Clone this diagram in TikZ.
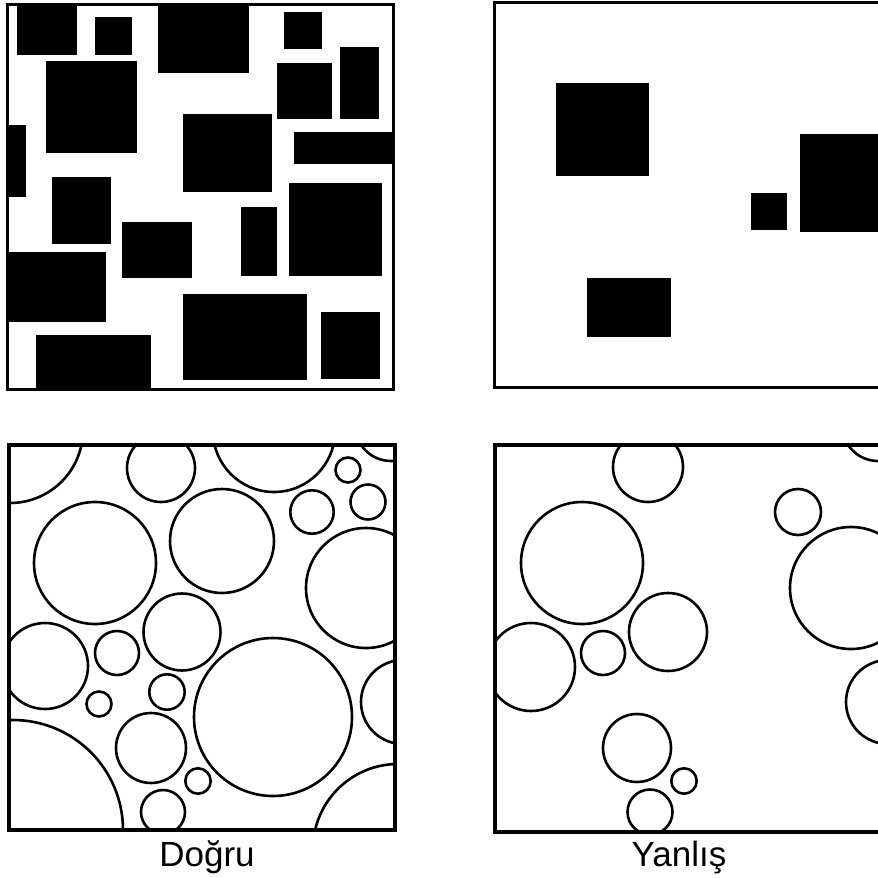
\documentclass[tikz,border=0pt]{standalone}
\usepackage{fontspec}
\setmainfont{Liberation Sans}
\usetikzlibrary{positioning}

\begin{document}
\begin{tikzpicture}[
    x=1pt, y=-1pt,
    frame/.style={draw, line width=3pt},
    block/.style={fill=black},
    ring/.style={draw, line width=2.6pt},
    caption/.style={font=\fontsize{35}{38}\selectfont, anchor=base}
]
\useasboundingbox (0,0) rectangle (878,878);
\clip (0,0) rectangle (878,878);
% Top left: many blocks
\begin{scope}
\clip (7,4) rectangle (393,389);
\fill[block] (17,4) rectangle (77,55);
\fill[block] (95,17) rectangle (132,55);
\fill[block] (158,4) rectangle (249,73);
\fill[block] (284,12) rectangle (322,49);
\fill[block] (340,47) rectangle (379,119);
\fill[block] (277,63) rectangle (332,119);
\fill[block] (46,61) rectangle (137,153);
\fill[block] (183,114) rectangle (272,192);
\fill[block] (6,125) rectangle (26,197);
\fill[block] (294,132) rectangle (393,164);
\fill[block] (52,177) rectangle (111,244);
\fill[block] (122,222) rectangle (192,278);
\fill[block] (241,207) rectangle (277,276);
\fill[block] (289,183) rectangle (382,276);
\fill[block] (6,252) rectangle (106,322);
\fill[block] (183,294) rectangle (307,380);
\fill[block] (321,312) rectangle (380,379);
\fill[block] (36,335) rectangle (151,389);
\end{scope}
\draw[frame] (7,4) rectangle (393,389);
% Top right: few blocks
\fill[block] (556,83) rectangle (649,176);
\fill[block] (751,193) rectangle (787,230);
\fill[block] (800,134) rectangle (880,232);
\fill[block] (587,278) rectangle (671,337);
\draw[frame] (494,2) rectangle (881,387);
% Bottom left: many rings
\begin{scope}
\clip (9,445) rectangle (395,830);
\draw[ring] (10,430) circle (73);
\draw[ring] (161,468) circle (34);
\draw[ring] (274,431) circle (61);
\draw[ring] (391,425) circle (36);
\draw[ring] (348,470) circle (12.5);
\draw[ring] (368,502) circle (17.5);
\draw[ring] (312,512) circle (21.7);
\draw[ring] (95,563) circle (61);
\draw[ring] (222,541) circle (52);
\draw[ring] (366,588) circle (60);
\draw[ring] (182,632) circle (38.5);
\draw[ring] (45,666) circle (43);
\draw[ring] (117,653) circle (22);
\draw[ring] (167,692) circle (17.7);
\draw[ring] (99,704) circle (12.5);
\draw[ring] (273,717) circle (79);
\draw[ring] (403,702) circle (42);
\draw[ring] (13,830) circle (110);
\draw[ring] (151,748) circle (35);
\draw[ring] (198,781) circle (12.7);
\draw[ring] (163,812) circle (22);
\draw[ring] (398,849) circle (85);
\end{scope}
\draw[frame, line width=4pt] (9,445) rectangle (395,830);
% Bottom right: few rings
\begin{scope}
\clip (495,445) rectangle (882,832);
\draw[ring] (648,467) circle (35);
\draw[ring] (878,425) circle (36);
\draw[ring] (798,512) circle (23);
\draw[ring] (582,563) circle (61);
\draw[ring] (851,588) circle (61);
\draw[ring] (668,632) circle (39);
\draw[ring] (531,667) circle (44);
\draw[ring] (603,653) circle (22);
\draw[ring] (888,702) circle (42);
\draw[ring] (637,748) circle (34);
\draw[ring] (684,781) circle (12.7);
\draw[ring] (650,812) circle (22.5);
\end{scope}
\draw[frame, line width=4pt] (495,445) rectangle (882,832);
% Captions
\node[caption] (right) at (207,866) {Doğru};
\node[caption] (wrong) at (679,866) {Yanlış};
\end{tikzpicture}
\end{document}
